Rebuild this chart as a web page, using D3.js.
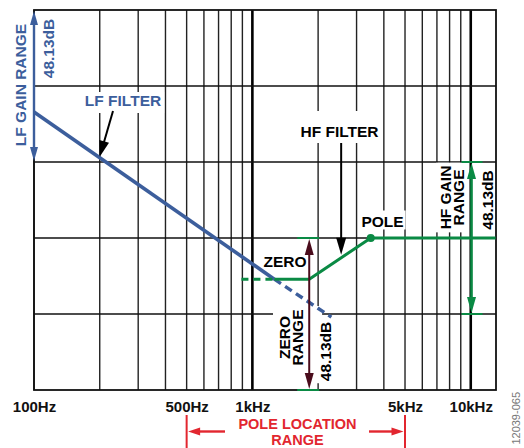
<!DOCTYPE html>
<html>
<head>
<meta charset="utf-8">
<script src="https://cdn.jsdelivr.net/npm/d3@7"></script>
<style>
  html, body { margin: 0; padding: 0; background: #fff; }
  svg { display: block; }
  text { font-family: "Liberation Sans", Arial, Helvetica, sans-serif; }
</style>
</head>
<body>
<div id="chart"></div>
<script>
// ---------------- data ----------------
const freqGrid = [100, 200, 300, 400, 500, 600, 700, 800, 900,
                  1000, 2000, 3000, 4000, 5000, 6000, 7000, 8000, 9000, 10000];
const majorFreqs = [1000, 10000];
const gainGrid = [24, 48, 72, 96];
const xTickValues = [100, 500, 1000, 5000, 10000];
const xTickLabels = ["100Hz", "500Hz", "1kHz", "5kHz", "10kHz"];

// LF filter response (Hz, dB)
const lfSolidFreq = [100, 1260];
const lfSolidGain = [87.8, 35];
const lfDashFreq = [1260, 2300];
const lfDashGain = [35, 23];

// HF filter response (Hz, dB)
const hfDashFreq = [891, 1260];
const hfDashGain = [35, 35];
const hfSolidFreq = [1260, 1821, 3484, 13000];
const hfSolidGain = [35, 35, 48, 48];
const poleFreq = 3484, poleGain = 48;
const zeroFreq = 1821;

// ranges (dB) and pole location range (Hz)
const lfGainRange = [72, 120];
const hfGainRange = [24, 72];
const zeroGainRange = [0, 48];
const poleLocationRange = [500, 5000];
const hfGainFreq = 10080;

// ---------------- layout ----------------
const W = 524, H = 448;
const X0 = 34, X1 = 496, Y0 = 10, Y1 = 390;
const BLUE = "#3c5e9c", GREEN = "#0a8a44", MAROON = "#4a0c1c", RED = "#e2262f";
const FS = 15.5;

const x = d3.scaleLog().domain([100, 13050]).range([X0, X1]);
const y = d3.scaleLinear().domain([0, 120]).range([Y1, Y0]);

const svg = d3.select("#chart").append("svg").attr("width", W).attr("height", H);
svg.append("rect").attr("width", W).attr("height", H).attr("fill", "#fff");

// grid
const grid = svg.append("g");
grid.selectAll("line.v").data(freqGrid).join("line")
  .attr("x1", d => x(d)).attr("x2", d => x(d))
  .attr("y1", Y0).attr("y2", Y1)
  .attr("stroke", d => majorFreqs.includes(d) ? "#000" : "#222")
  .attr("stroke-width", d => majorFreqs.includes(d) ? 2.6 : 1.4);
grid.selectAll("line.h").data(gainGrid).join("line")
  .attr("x1", X0).attr("x2", X1)
  .attr("y1", d => y(d)).attr("y2", d => y(d))
  .attr("stroke", "#111").attr("stroke-width", 1.7);
grid.append("rect").attr("x", X0).attr("y", Y0).attr("width", X1 - X0).attr("height", Y1 - Y0)
  .attr("fill", "none").attr("stroke", "#111").attr("stroke-width", 1.8);

// x axis labels
const xAxis = d3.axisBottom(x).tickValues(xTickValues)
  .tickFormat((d, i) => xTickLabels[i]).tickSize(0);
const ax = svg.append("g").attr("transform", `translate(0,${Y1})`).call(xAxis);
ax.select(".domain").remove();
ax.selectAll("text").attr("y", 21.5).attr("dy", null)
  .attr("font-size", 15).attr("font-weight", "bold").attr("fill", "#111")
  .attr("font-family", '"Liberation Sans", Arial, sans-serif');

// ---------------- labels with white boxes ----------------
const labels = svg.append("g");
function boxedText(o) {
  const g = labels.append("g").attr("transform", `translate(${o.x},${o.y}) rotate(${o.rotate || 0})`);
  const t = g.append("text")
    .attr("text-anchor", o.anchor || "middle")
    .attr("font-size", o.size || FS).attr("font-weight", o.weight || "bold")
    .attr("fill", o.color || "#000");
  o.lines.forEach((s, i) => {
    t.append("tspan").attr("x", 0).attr("y", i * (o.gap || 13)).text(s);
  });
  if (o.box) {
    const bb = g.node().getBBox();
    const p = o.pad || [2, 2, 2, 2]; // top right bottom left (local)
    g.insert("rect", ":first-child")
      .attr("x", bb.x - p[3]).attr("y", bb.y - p[0])
      .attr("width", bb.width + p[1] + p[3]).attr("height", bb.height + p[0] + p[2])
      .attr("fill", "#fff");
  }
  return g;
}

// white area behind ZERO RANGE block (hides grid line)
labels.append("rect").attr("x", 273).attr("y", 306)
  .attr("width", x(2000) + 4 - 273).attr("height", 62).attr("fill", "#fff");

boxedText({x: 123, y: 106, lines: ["LF FILTER"], color: BLUE, box: true, pad: [0, 3, 4, 3]});
boxedText({x: 339.5, y: 137, lines: ["HF FILTER"], box: true, pad: [12, 3, 3, 3]});
boxedText({x: 382.5, y: 226.5, lines: ["POLE"], box: true, pad: [2, 2, 0, 2]});
boxedText({x: 285, y: 267, lines: ["ZERO"], box: true, pad: [1, 2, 0, 2]});
boxedText({x: 451, y: 197.5, rotate: -90, lines: ["HF GAIN", "RANGE"], gap: 12.5, box: true, pad: [1, 3, 1, 3]});
boxedText({x: 493.3, y: 200, rotate: -90, lines: ["48.13dB"]});
boxedText({x: 290, y: 337.5, rotate: -90, lines: ["ZERO", "RANGE"], gap: 13});
boxedText({x: 330.5, y: 351.5, rotate: -90, lines: ["48.13dB"], box: true, pad: [1, 2, 1, 2]});
boxedText({x: 26, y: 85, rotate: -90, lines: ["LF GAIN RANGE"], color: BLUE});
boxedText({x: 54.3, y: 48.5, rotate: -90, lines: ["48.13dB"], color: BLUE});
boxedText({x: 297.5, y: 428.5, lines: ["POLE LOCATION"], color: RED, size: 14.5});
boxedText({x: 297.5, y: 445, lines: ["RANGE"], color: RED, size: 14.5});
boxedText({x: 520, y: 392, rotate: -90, anchor: "end", lines: ["12039-065"], size: 11, weight: "normal", color: "#777"});

// ---------------- data marks ----------------
const marks = svg.append("g");
const line = d3.line().x(d => x(d[0])).y(d => y(d[1]));
const zip = (a, b) => a.map((v, i) => [v, b[i]]);

marks.append("path").datum(zip(lfSolidFreq, lfSolidGain)).attr("d", line)
  .attr("fill", "none").attr("stroke", BLUE).attr("stroke-width", 3.6);
marks.append("path").datum(zip(lfDashFreq, lfDashGain)).attr("d", line)
  .attr("fill", "none").attr("stroke", BLUE).attr("stroke-width", 3.4).attr("stroke-dasharray", "8,5");
marks.append("path").datum(zip(hfDashFreq, hfDashGain)).attr("d", line)
  .attr("fill", "none").attr("stroke", GREEN).attr("stroke-width", 3).attr("stroke-dasharray", "7,5");
marks.append("path").datum(zip(hfSolidFreq, hfSolidGain)).attr("d", line)
  .attr("fill", "none").attr("stroke", GREEN).attr("stroke-width", 3).attr("stroke-linejoin", "round");
marks.append("circle").attr("cx", x(poleFreq)).attr("cy", y(poleGain)).attr("r", 4).attr("fill", GREEN);

// arrow helper: line from (xa,ya) to tip (xb,yb) with triangular head
function arrowHead(g, xb, yb, ang, len, half, color) {
  const ca = Math.cos(ang), sa = Math.sin(ang);
  const bx = xb - ca * len, by = yb - sa * len;
  g.append("path")
    .attr("d", `M${xb},${yb}L${bx - sa * half},${by + ca * half}L${bx + sa * half},${by - ca * half}Z`)
    .attr("fill", color);
}
function arrow(g, xa, ya, xb, yb, color, w, len, half, both) {
  const ang = Math.atan2(yb - ya, xb - xa);
  const ca = Math.cos(ang), sa = Math.sin(ang);
  const s = both ? len * 0.8 : 0;
  g.append("line")
    .attr("x1", xa + ca * s).attr("y1", ya + sa * s)
    .attr("x2", xb - ca * len * 0.8).attr("y2", yb - sa * len * 0.8)
    .attr("stroke", color).attr("stroke-width", w);
  arrowHead(g, xb, yb, ang, len, half, color);
  if (both) arrowHead(g, xa, ya, ang + Math.PI, len, half, color);
}

// interpolate on a polyline in log-frequency
function gainAt(fs, gs, f) {
  for (let i = 0; i < fs.length - 1; i++) {
    if (f >= fs[i] && f <= fs[i + 1]) {
      const t = (Math.log(f) - Math.log(fs[i])) / (Math.log(fs[i + 1]) - Math.log(fs[i]));
      return gs[i] + t * (gs[i + 1] - gs[i]);
    }
  }
  return gs[gs.length - 1];
}

// LF FILTER pointer
arrow(marks, 113, 111, x(200), y(gainAt(lfSolidFreq, lfSolidGain, 200)) - 1, "#000", 2, 16, 5);
// HF FILTER pointer
const hfPtF = 2550;
arrow(marks, x(hfPtF), 143, x(hfPtF), y(gainAt(hfSolidFreq, hfSolidGain, hfPtF)) - 3, "#000", 2, 17, 5);

// LF gain range arrow
arrow(marks, X0, y(lfGainRange[0]) - 1, X0, y(lfGainRange[1]) + 1, BLUE, 2.4, 14, 4, true);

// ZERO range arrow with caps
const zx = x(zeroFreq);
marks.selectAll("line.zc").data(zeroGainRange).join("line")
  .attr("x1", zx - 12).attr("x2", zx + 10).attr("y1", d => y(d)).attr("y2", d => y(d))
  .attr("stroke", GREEN).attr("stroke-width", 2);
arrow(marks, zx, y(zeroGainRange[0]) - 1, zx, y(zeroGainRange[1]) + 1, MAROON, 2, 16, 4.5, true);

// HF gain range arrow with caps
const hx = x(hfGainFreq);
marks.selectAll("line.hc").data(hfGainRange).join("line")
  .attr("x1", hx - 10).attr("x2", hx + 11).attr("y1", d => y(d)).attr("y2", d => y(d))
  .attr("stroke", GREEN).attr("stroke-width", 2);
arrow(marks, hx, y(hfGainRange[0]) - 1, hx, y(hfGainRange[1]) + 1, GREEN, 2.6, 16, 4.5, true);

// POLE LOCATION RANGE
const red = svg.append("g");
red.selectAll("line.pl").data(poleLocationRange).join("line")
  .attr("x1", d => x(d)).attr("x2", d => x(d)).attr("y1", 415).attr("y2", 448)
  .attr("stroke", RED).attr("stroke-width", 2);
arrow(red, 225, 431.5, x(poleLocationRange[0]) + 1.5, 431.5, RED, 2.4, 12, 4);
arrow(red, 369, 431.5, x(poleLocationRange[1]) - 1.5, 431.5, RED, 2.4, 12, 4);
</script>
</body>
</html>
